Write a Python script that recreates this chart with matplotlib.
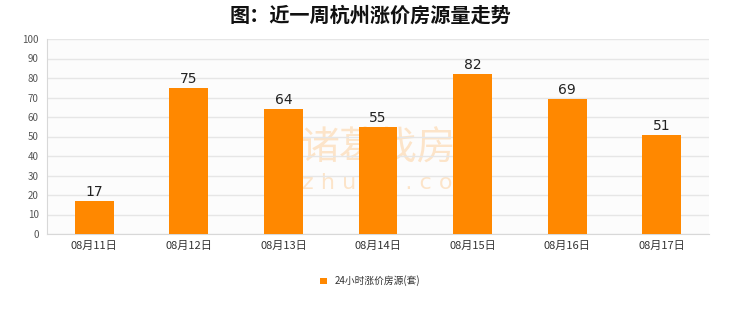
import matplotlib
matplotlib.use("Agg")
import matplotlib.pyplot as plt
from matplotlib.patches import Patch

plt.rcParams['font.family'] = ['Noto Sans CJK SC', 'DejaVu Sans']

dates = ["08月11日", "08月12日", "08月13日", "08月14日", "08月15日", "08月16日", "08月17日"]
counts = [17, 75, 64, 55, 82, 69, 51]
series_name = "24小时涨价房源(套)"
title = "图：近一周杭州涨价房源量走势"

bar_color = "#FF8800"
grid_color = "#e6e6e6"

fig = plt.figure(figsize=(7.4, 3.12), dpi=100, facecolor="#ffffff")
ax = fig.add_axes([47 / 740, 1 - 234 / 312, 662 / 740, 195 / 312])
ax.set_facecolor("#fcfcfc")

x = list(range(len(dates)))
ax.bar(x, counts, width=0.41, color=bar_color, zorder=3)
for xi, v in zip(x, counts):
    ax.text(xi, v + 1, str(v), ha="center", va="bottom", fontsize=10,
            color="#222222", family="DejaVu Sans", zorder=4)

ax.set_xlim(-0.5, len(dates) - 0.5)
ax.set_ylim(0, 100)
ax.set_yticks(range(0, 101, 10))
ax.set_xticks(x)
ax.set_xticklabels(dates, fontsize=8, color="#333333")
ax.tick_params(axis="y", labelsize=7, colors="#555555", length=0, pad=6)
ax.tick_params(axis="x", length=0, pad=5)
ax.grid(axis="y", color=grid_color, linewidth=1, zorder=0)
for s in ["top", "right"]:
    ax.spines[s].set_visible(False)
for s in ["left", "bottom"]:
    ax.spines[s].set_color("#d8d8d8")

# faint watermark behind the bars
ax.text(0.5, 0.44, "诸葛找房", transform=ax.transAxes, fontsize=28, color=bar_color,
        alpha=0.2, ha="center", va="center", zorder=1)
ax.text(0.52, 0.26, "z h u g e . c o m", transform=ax.transAxes, fontsize=16,
        color=bar_color, alpha=0.2, ha="center", va="center", family="DejaVu Sans",
        zorder=1)

fig.text(0.5, 1 - 15 / 312, title, fontsize=14.5, fontweight="bold",
         ha="center", va="center", color="#111111")

handle = Patch(facecolor=bar_color, edgecolor="none")
fig.legend([handle], [series_name], loc="center", bbox_to_anchor=(0.5, 1 - 281 / 312),
           frameon=False, fontsize=7, handlelength=0.7, handleheight=0.7,
           labelcolor="#333333")

fig.savefig("out.png", dpi=100, facecolor=fig.get_facecolor())
